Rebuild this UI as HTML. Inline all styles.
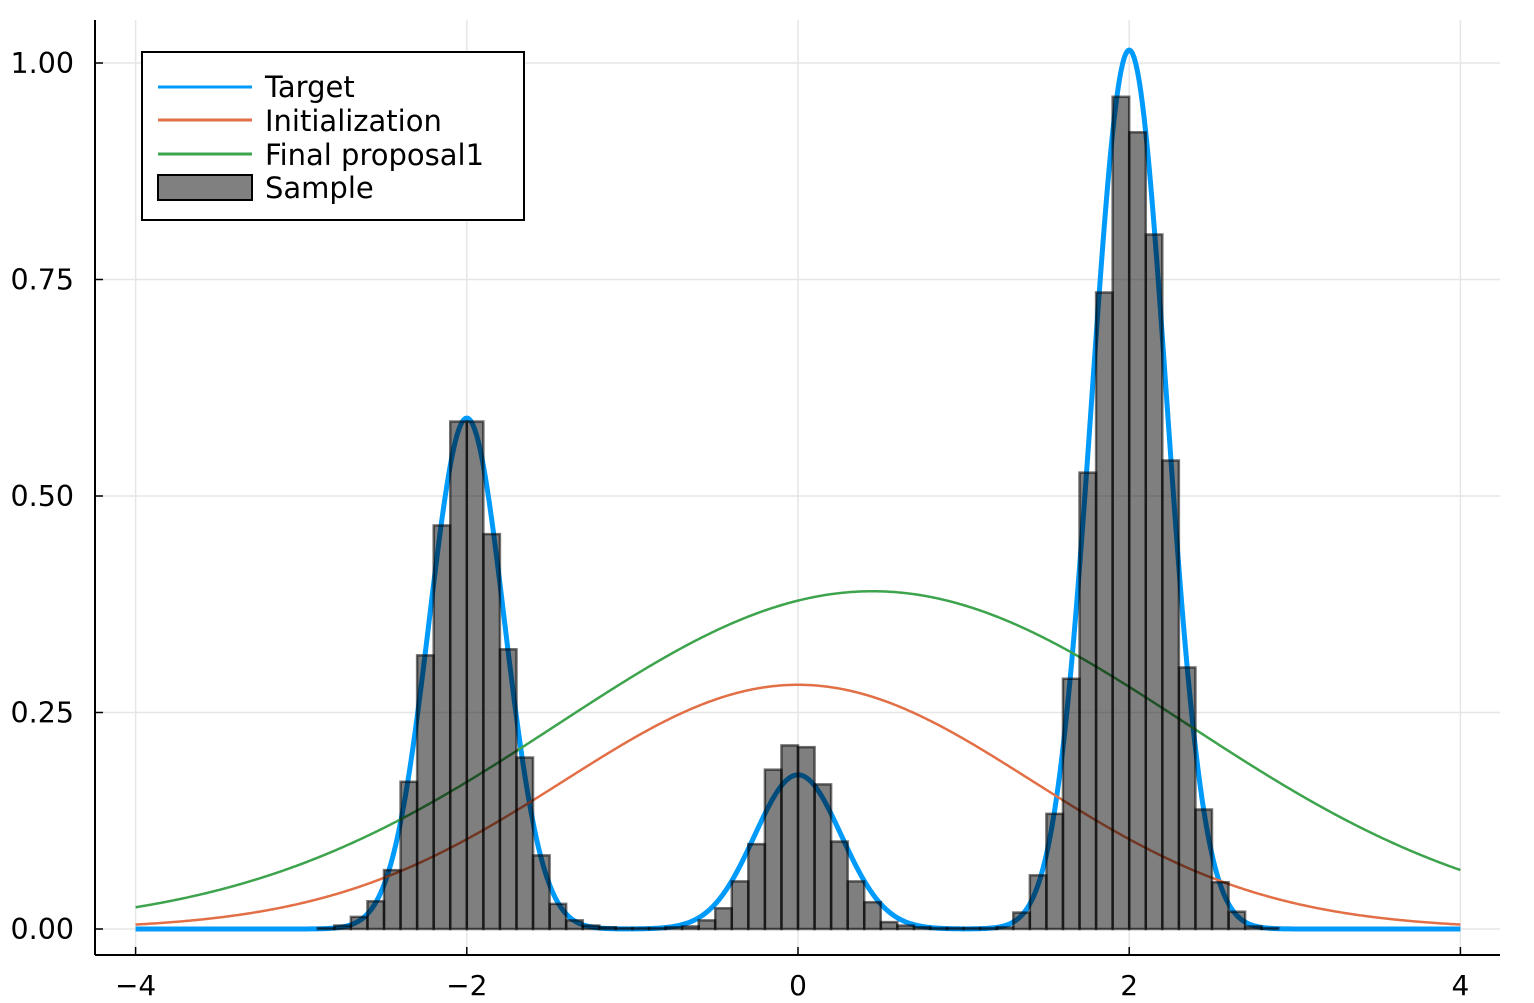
<!DOCTYPE html>
<html><head><meta charset="utf-8"><style>
html,body{margin:0;padding:0;background:#fff;}
svg{display:block;font-family:"DejaVu Sans","Liberation Sans",sans-serif;}
</style></head><body>
<svg id="chart" width="1534" height="1003" viewBox="0 0 1534 1003" xmlns="http://www.w3.org/2000/svg">
<g id="grid"></g>
<g id="series"></g>
<g id="hist"></g>
<g id="axes"></g>
<g id="legend">
  <rect x="142" y="52" width="382" height="168" fill="#fff" stroke="#000" stroke-width="2"/>
  <line x1="158" y1="87" x2="252" y2="87" stroke="#009AFA" stroke-width="3"/>
  <text x="265" y="97" font-size="29">Target</text>
  <line x1="158" y1="120" x2="252" y2="120" stroke="#E26F46" stroke-width="3"/>
  <text x="265" y="131" font-size="29">Initialization</text>
  <line x1="158" y1="154" x2="252" y2="154" stroke="#3DA44D" stroke-width="3"/>
  <text x="265" y="165" font-size="29">Final proposal1</text>
  <rect x="158" y="175" width="94" height="25" fill="#808080" stroke="#000" stroke-width="2"/>
  <text x="265" y="198" font-size="29">Sample</text>
</g>
</svg>
<script>
// ---- data ----
const xTicks = [-4, -2, 0, 2, 4];
const xTickLabels = ["\u22124", "\u22122", "0", "2", "4"];
const yTicks = [0, 0.25, 0.5, 0.75, 1.0];
const yTickLabels = ["0.00", "0.25", "0.50", "0.75", "1.00"];
// target mixture components (peak height, mean, sd)
const targetMeans = [-2, 0, 2];
const targetPeaks = [0.59, 0.178, 1.015];
const targetSds = [0.226, 0.262, 0.225];
// initialization curve
const initMean = [0];
const initPeak = [0.282];
const initSd = [1.414];
// final proposal curve
const finalMean = [0.45];
const finalPeak = [0.39];
const finalSd = [1.9];
// histogram
const binStart = -2.9;
const binWidth = 0.1;
const binValues = [
  0.001,0.004,0.014,0.032,0.068,0.170,0.316,0.466,0.586,0.586,
  0.456,0.323,0.198,0.085,0.029,0.010,0.004,0.002,0.001,0.001,
  0.001,0.002,0.003,0.010,0.024,0.055,0.098,0.184,0.212,0.210,
  0.167,0.101,0.055,0.031,0.008,0.004,0.002,0.001,0.001,0.001,
  0.001,0.002,0.019,0.062,0.133,0.289,0.527,0.735,0.961,
  0.920,0.802,0.541,0.302,0.138,0.054,0.020,0.003,0.001
];
// ---- scales ----
const X0 = 798, XS = 165.6, Y0 = 929, YS = 866;
const sx = v => X0 + v * XS;
const sy = v => Y0 - v * YS;
const NS = "http://www.w3.org/2000/svg";
function mk(tag, attrs, parent){const e=document.createElementNS(NS,tag);for(const k in attrs)e.setAttribute(k,attrs[k]);parent.appendChild(e);return e;}
const grid=document.getElementById('grid'), series=document.getElementById('series'), hist=document.getElementById('hist'), axes=document.getElementById('axes');
xTicks.forEach(t=>{const l=mk('line',{x1:sx(t),x2:sx(t),y1:20,y2:955,stroke:'#e6e6e6','stroke-width':1.5},grid);

});
yTicks.forEach(t=>{const l=mk('line',{x1:95,x2:1500,y1:sy(t),y2:sy(t),stroke:'#e6e6e6','stroke-width':1.5},grid);

});
function gauss(x, m, p, s){return p*Math.exp(-(x-m)*(x-m)/(2*s*s));}
function curve(f, color, w, name){let d='';for(let i=0;i<=800;i++){const x=-4+i*0.01;d+=(i?'L':'M')+sx(x).toFixed(2)+','+sy(f(x)).toFixed(2);}
const p=mk('path',{d:d,fill:'none',stroke:color,'stroke-width':w,'stroke-linejoin':'round'},series);

}
curve(x=>targetMeans.reduce((a,m,i)=>a+gauss(x,m,targetPeaks[i],targetSds[i]),0),'#009AFA',5,'target-line');
curve(x=>gauss(x,initMean[0],initPeak[0],initSd[0]),'#E26F46',2.5,'initialization-line');
curve(x=>gauss(x,finalMean[0],finalPeak[0],finalSd[0]),'#3DA44D',2.5,'final-proposal-line');
binValues.forEach((v,i)=>{const a=binStart+i*binWidth;const r=mk('rect',{x:sx(a),y:sy(v),width:binWidth*XS,height:Y0-sy(v),fill:'#000','fill-opacity':0.5,stroke:'#000','stroke-opacity':0.55,'stroke-width':2.5},hist);

});
// axes
let a1=mk('line',{x1:95,x2:95,y1:20,y2:955,stroke:'#000','stroke-width':2},axes);


let a2=mk('line',{x1:95,x2:1500,y1:955,y2:955,stroke:'#000','stroke-width':2},axes);


xTicks.forEach((t,i)=>{const tk=mk('line',{x1:sx(t),x2:sx(t),y1:955,y2:947,stroke:'#000','stroke-width':1.5},axes);


const tx=mk('text',{x:sx(t),y:995,'font-size':28,'text-anchor':'middle'},axes);tx.textContent=xTickLabels[i];

});
yTicks.forEach((t,i)=>{const tk=mk('line',{x1:95,x2:103,y1:sy(t),y2:sy(t),stroke:'#000','stroke-width':1.5},axes);


const tx=mk('text',{x:74,y:sy(t)+10,'font-size':28.5,'text-anchor':'end'},axes);tx.textContent=yTickLabels[i];

});
</script>
</body></html>
